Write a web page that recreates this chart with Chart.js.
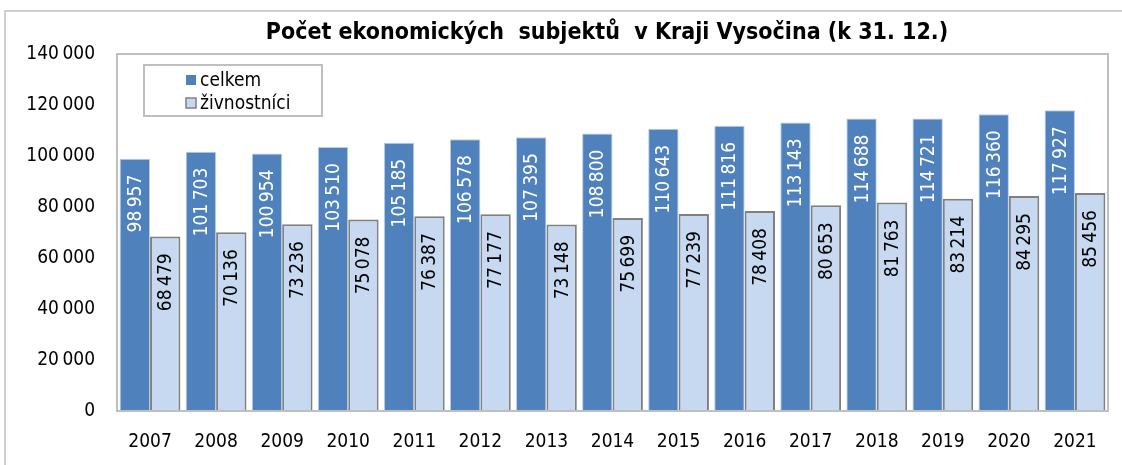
<!DOCTYPE html>
<html>
<head>
<meta charset="utf-8">
<script src="https://cdn.jsdelivr.net/npm/chart.js@4"></script>
<style>
  body { margin: 0; background: #fff; }
  #wrap { width: 1122px; height: 465px; }
</style>
</head>
<body>
<div id="wrap"><canvas id="js-subjekty__chart" width="1122" height="465"></canvas></div>
<script>
// Počet ekonomických subjektů v Kraji Vysočina
const years = ['2007', '2008', '2009', '2010', '2011', '2012', '2013', '2014',
  '2015', '2016', '2017', '2018', '2019', '2020', '2021'];

const celkem = [98957, 101703, 100954, 103510, 105185, 106578, 107395, 108800,
  110643, 111816, 113143, 114688, 114721, 116360, 117927];

const zivnostnici = [68479, 70136, 73236, 75078, 76387, 77177, 73148, 75699,
  77239, 78408, 80653, 81763, 83214, 84295, 85456];

const yTicks = [0, 20000, 40000, 60000, 80000, 100000, 120000, 140000];

const chartTitle = 'Počet ekonomických  subjektů  v Kraji Vysočina (k 31. 12.)';
const FONT = '"DejaVu Sans Condensed", "DejaVu Sans", sans-serif';

function fmt(v) {
  return String(v).replace(/\B(?=(\d{3})+(?!\d))/g, '\u2009');
}

// frame, title, plot box, legend
const decorPlugin = {
  id: 'decor',
  beforeDraw(chart) {
    const ctx = chart.ctx;
    ctx.save();
    ctx.strokeStyle = '#d0d0d0';
    ctx.lineWidth = 2;
    ctx.beginPath();
    ctx.moveTo(5, 470);
    ctx.lineTo(5, 11);
    ctx.lineTo(1130, 11);
    ctx.stroke();

    ctx.fillStyle = '#000';
    ctx.font = 'bold 23px ' + FONT;
    ctx.textAlign = 'center';
    ctx.textBaseline = 'middle';
    ctx.fillText(chartTitle, 607, 33);
    ctx.restore();
  },
  afterDatasetsDraw(chart) {
    const ctx = chart.ctx;
    const a = chart.chartArea;
    ctx.save();
    ctx.strokeStyle = '#bfbfbf';
    ctx.lineWidth = 2;
    ctx.strokeRect(a.left, a.top, a.right - a.left, a.bottom - a.top);

    // legend
    ctx.fillStyle = '#fff';
    ctx.fillRect(144, 65, 178, 51);
    ctx.strokeStyle = '#bfbfbf';
    ctx.strokeRect(144, 65, 178, 51);
    ctx.font = '19px ' + FONT;
    ctx.textAlign = 'left';
    ctx.textBaseline = 'middle';
    chart.data.datasets.forEach((ds, i) => {
      const y = 80 + i * 23;
      ctx.fillStyle = ds.backgroundColor;
      ctx.fillRect(186, y - 5, 10, 10);
      if (i === 1) {
        ctx.strokeStyle = '#808080';
        ctx.lineWidth = 1.5;
        ctx.strokeRect(186, y - 5, 10, 10);
      }
      ctx.fillStyle = '#000';
      ctx.fillText(ds.label, 200, y + 1);
    });
    ctx.restore();
  }
};

// vertical value labels inside bars
const valuePlugin = {
  id: 'values',
  afterDatasetsDraw(chart) {
    const ctx = chart.ctx;
    ctx.save();
    ctx.font = '19px ' + FONT;
    ctx.textAlign = 'right';
    ctx.textBaseline = 'middle';
    chart.data.datasets.forEach((ds, i) => {
      const meta = chart.getDatasetMeta(i);
      meta.data.forEach((bar, j) => {
        ctx.save();
        ctx.translate(bar.x, bar.y + (i === 0 ? 16 : 17));
        ctx.rotate(-Math.PI / 2);
        ctx.fillStyle = i === 0 ? '#fff' : '#000';
        ctx.fillText(fmt(ds.data[j]), 0, 1);
        ctx.restore();
      });
    });
    ctx.restore();
  }
};

const subjektyData = {
  labels: years,
  datasets: [{
    label: 'celkem',
    backgroundColor: '#4f81bd',
    borderColor: '#b9cde5',
    borderWidth: 1,
    data: celkem,
  },
  {
    label: 'živnostníci',
    backgroundColor: '#c6d9f1',
    borderColor: '#808080',
    borderWidth: 2,
    data: zivnostnici,
  }]
};

const subjektyConfig = {
  type: 'bar',
  data: subjektyData,
  plugins: [decorPlugin, valuePlugin],
  options: {
    responsive: false,
    animation: false,
    layout: {
      padding: { top: 54, right: 14, left: 0, bottom: 0 }
    },
    datasets: {
      bar: { categoryPercentage: 0.92, barPercentage: 1.0 }
    },
    plugins: {
      legend: { display: false },
      tooltip: { enabled: false }
    },
    scales: {
      x: {
        grid: { display: false },
        border: { display: false },
        ticks: {
          color: '#000',
          font: { family: FONT, size: 19 },
          padding: 12,
          maxRotation: 0
        },
        afterFit(scale) { scale.height = 54; }
      },
      y: {
        min: 0,
        max: 140000,
        grid: { display: false },
        border: { display: false },
        afterBuildTicks(scale) {
          scale.ticks = yTicks.map(v => ({ value: v }));
        },
        ticks: {
          color: '#000',
          font: { family: FONT, size: 19 },
          padding: 14,
          callback: v => fmt(v)
        },
        afterFit(scale) { scale.width = 117; }
      }
    }
  }
};

const subjektyChart = new Chart(
  document.getElementById('js-subjekty__chart'),
  subjektyConfig
);
</script>
</body>
</html>
